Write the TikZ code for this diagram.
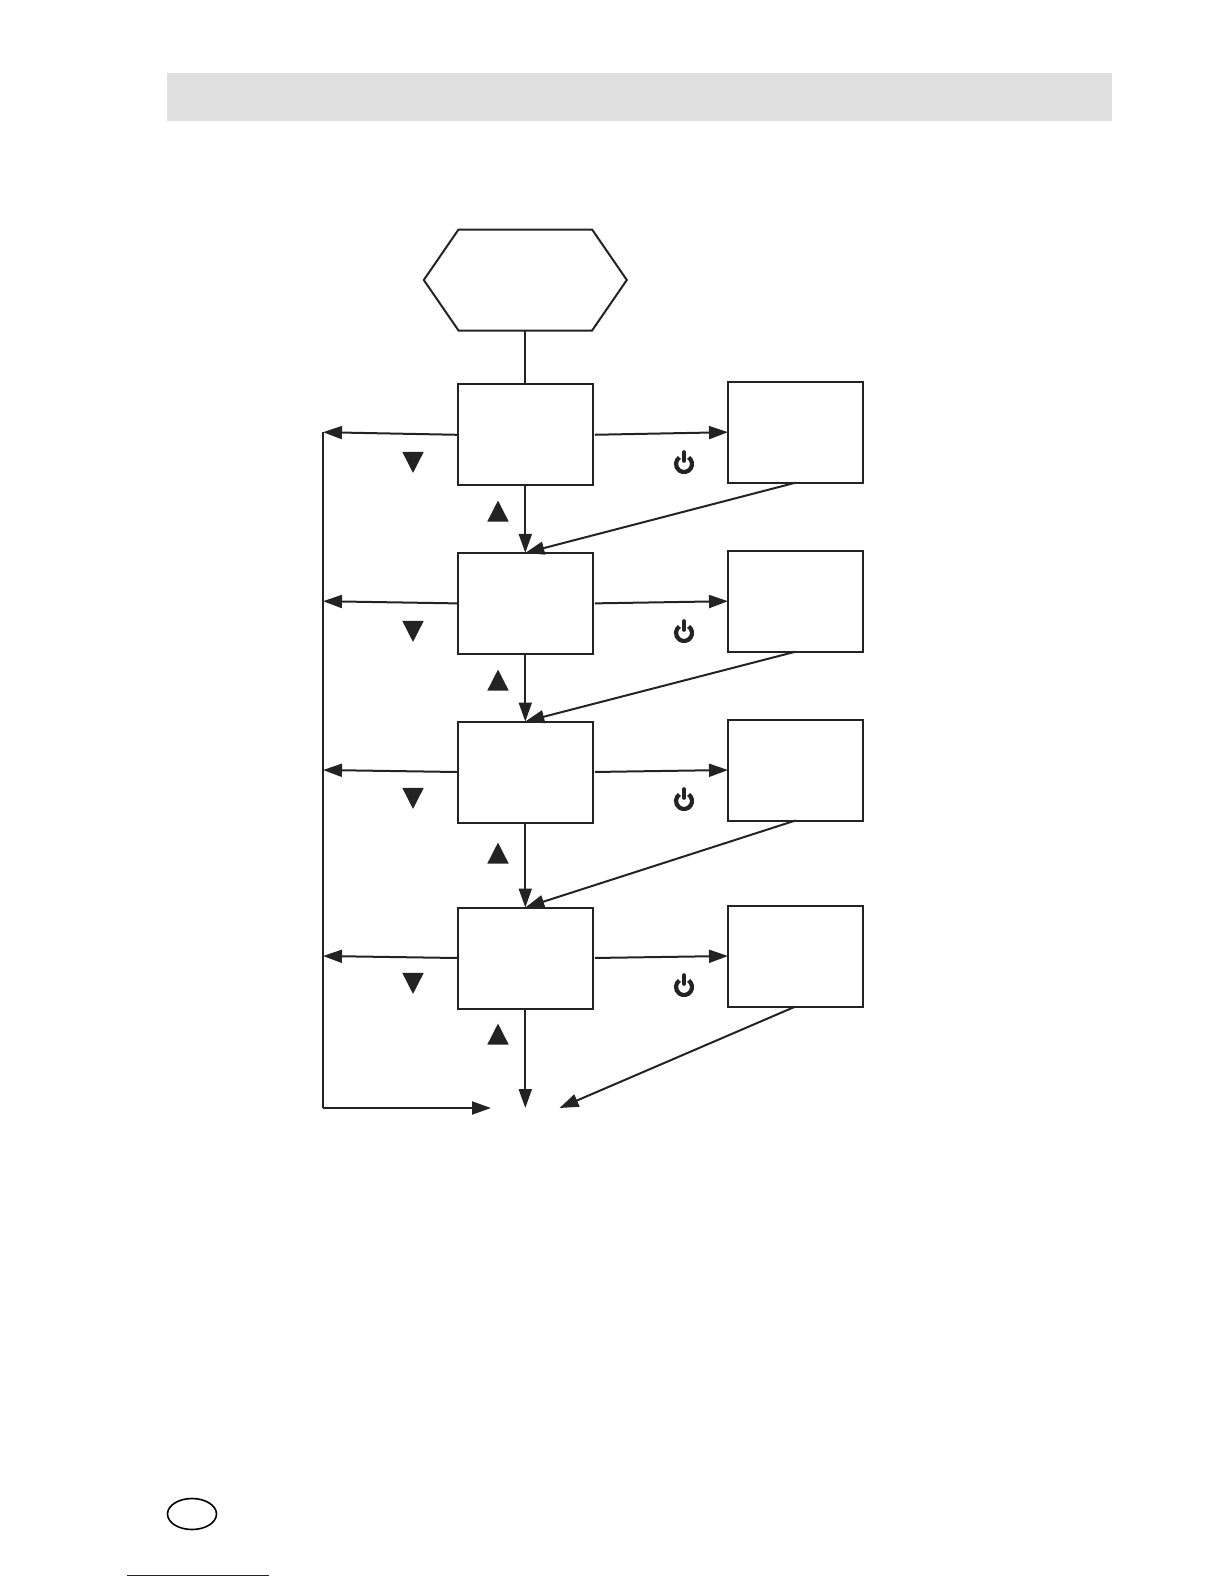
\documentclass[tikz,border=0pt]{standalone}
\usetikzlibrary{positioning,arrows.meta,shapes.geometric,shapes.symbols}
\definecolor{bandgray}{RGB}{224,224,224}
\definecolor{linkblue}{RGB}{20,20,170}
\definecolor{inkgray}{RGB}{35,35,35}
\tikzset{
  menubox/.style={draw=inkgray, line width=2pt, fill=white, minimum width=135pt, minimum height=101pt, outer sep=0pt},
  flow/.style={draw=inkgray, line width=2pt, -{Triangle[length=19pt,width=13pt]}},
  downkey/.style={isosceles triangle, isosceles triangle apex angle=54, shape border rotate=-90, fill=inkgray, inner sep=0pt, minimum height=21pt},
  upkey/.style={downkey, shape border rotate=90},
  powerkey/.pic={
    \draw[inkgray, line width=4.2pt] (55:8pt) arc[start angle=55, end angle=-235, radius=8pt];
    \draw[inkgray, line width=3.6pt, line cap=round] (0,12pt) -- (0,3pt);
  }
}
\begin{document}
\begin{tikzpicture}[x=1pt,y=-1pt]
  \useasboundingbox (0,0) rectangle (1224,1584);
  \node[fill=bandgray, minimum width=945pt, minimum height=48.5pt] (band) at (639.5,97) {};
  \node[draw=inkgray, line width=2pt, signal, signal to=west and east, signal pointer angle=111, minimum width=203pt, minimum height=101pt, inner sep=0pt, outer sep=0pt] (start) at (525.3,280) {};
  \node[menubox] (box1) at (525.3,434.8) {};
  \node[menubox] (box2) at (525.3,603.4) {};
  \node[menubox] (box3) at (525.3,772) {};
  \node[menubox] (box4) at (525.3,958) {};
  \node[menubox] (side1) at (795.5,432.2) {};
  \node[menubox] (side2) at (795.5,601.2) {};
  \node[menubox] (side3) at (795.5,770) {};
  \node[menubox] (side4) at (795.5,956) {};
  \coordinate (rail1) at (323,432.2);
  \coordinate (rail2) at (323,601.2);
  \coordinate (rail3) at (323,770);
  \coordinate (rail4) at (323,956);
  \coordinate (railend) at (323,1108);
  \coordinate (exitleft) at (491,1108);
  \coordinate (exitdown) at (525.3,1108);
  \coordinate (exitright) at (559.5,1108);
  \draw[draw=inkgray, line width=2pt] (start) -- (box1);
  \draw[draw=inkgray, line width=2pt] (rail1) -- (railend);
  \draw[flow] (railend) -- (exitleft);
  \foreach \i in {1,2,3,4} {
    \draw[flow] (box\i.west) -- (rail\i);
    \draw[flow, shorten <=2pt] (box\i.east) -- (side\i.west);
  }
  \foreach \a/\b in {box1/box2,box2/box3,box3/box4}
    \draw[flow] (\a.south) -- (\b.north);
  \foreach \a/\b in {side1/box2,side2/box3,side3/box4}
    \draw[flow] (\a.south) -- (\b.north);
  \draw[flow] (box4.south) -- (exitdown);
  \draw[flow] (side4.south) -- (exitright);
  \foreach \n/\y in {1/458.5,2/627.5,3/794.5,4/979.5}
    \node[downkey] (down\n) at (413,\y) {};
  \foreach \n/\y in {1/515,2/684,3/857,4/1038}
    \node[upkey] (up\n) at (498,\y) {};
  \foreach \y in {464,633,801,987}
    \pic at (684,\y) {powerkey};
  \node[draw=black, line width=1.6pt, ellipse, minimum width=49pt, minimum height=31pt, inner sep=0pt] (badge) at (192,1514) {};
  \coordinate (linkstart) at (127,1575);
  \coordinate (linkend) at (269,1575);
  \draw[linkblue, line width=1pt] (linkstart) -- (linkend);
\end{tikzpicture}
\end{document}
